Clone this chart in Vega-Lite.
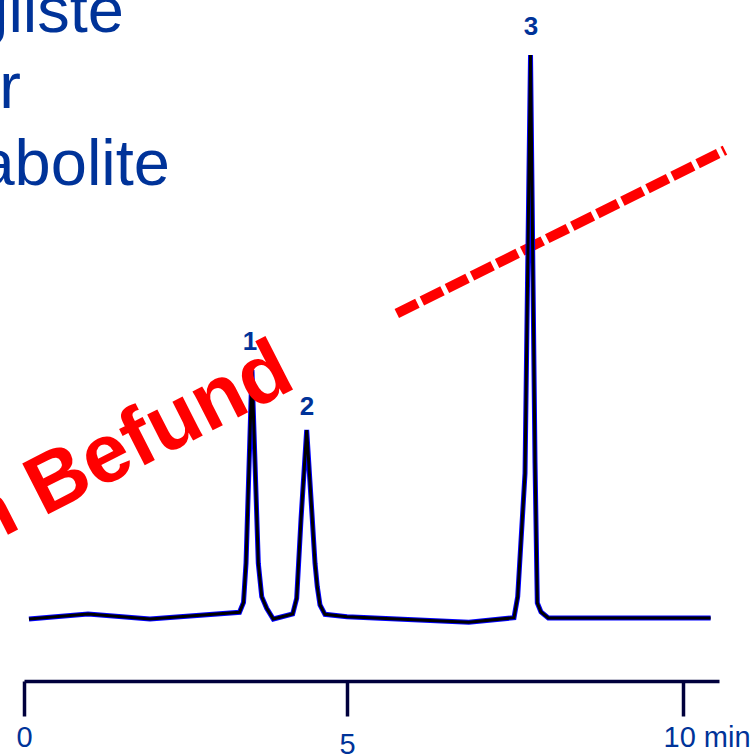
{
  "$schema": "https://vega.github.io/schema/vega-lite/v6.json",
  "autosize": "none",
  "width": 695,
  "height": 681,
  "padding": {"left": 24, "top": 0, "right": 32, "bottom": 73},
  "background": "white",
  "config": {"view": {"stroke": null}},
  "datasets": {
    "trace": [
      {"t": 0.077, "signal": 0},
      {"t": 0.991, "signal": 0.89},
      {"t": 1.95, "signal": 0},
      {"t": 3.336, "signal": 1.19},
      {"t": 3.398, "signal": 2.93},
      {"t": 3.437, "signal": 9.93},
      {"t": 3.529, "signal": 44.15},
      {"t": 3.627, "signal": 9.88},
      {"t": 3.68, "signal": 3.95},
      {"t": 3.757, "signal": 1.9},
      {"t": 3.859, "signal": 0},
      {"t": 4.159, "signal": 0.89},
      {"t": 4.221, "signal": 3.67},
      {"t": 4.288, "signal": 17.68},
      {"t": 4.376, "signal": 33.51},
      {"t": 4.463, "signal": 17.68},
      {"t": 4.505, "signal": 9.88},
      {"t": 4.54, "signal": 5.73},
      {"t": 4.582, "signal": 2.48},
      {"t": 4.659, "signal": 0.83},
      {"t": 5.0, "signal": 0.41},
      {"t": 6.813, "signal": -0.59},
      {"t": 7.485, "signal": 0.23},
      {"t": 7.54, "signal": 3.95},
      {"t": 7.649, "signal": 25.8},
      {"t": 7.731, "signal": 100},
      {"t": 7.798, "signal": 27.66},
      {"t": 7.832, "signal": 2.84},
      {"t": 7.887, "signal": 1.24},
      {"t": 7.996, "signal": 0.18},
      {"t": 10.411, "signal": 0.18}
    ],
    "peaks": [
      {"t": 3.498, "signal": 47.7, "label": "1"},
      {"t": 4.381, "signal": 36.17, "label": "2"},
      {"t": 7.738, "signal": 103.55, "label": "3"}
    ],
    "marker": [
      {"t": 5.741, "signal": 54.17},
      {"t": 10.625, "signal": 83.12}
    ],
    "stamp": [
      {"t": 4.241, "signal": 41.13, "text": "Kein Befund"}
    ],
    "heading": [
      {"t": 1.548, "signal": 104.08, "text": "gliste"},
      {"t": -0.046, "signal": 90.6, "text": "r"},
      {"t": 2.26, "signal": 76.95, "text": "abolite"}
    ]
  },
  "encoding": {
    "x": {
      "field": "t",
      "type": "quantitative",
      "scale": {"domain": [0, 5, 10, 10.536], "range": [0, 323, 659, 695], "nice": false, "zero": false},
      "axis": {
        "orient": "bottom",
        "values": [0, 5, 10],
        "title": null,
        "grid": false,
        "domainColor": "#00003c",
        "domainWidth": 3.5,
        "tickColor": "#00003c",
        "tickWidth": 3.5,
        "tickSize": 35,
        "labelColor": "#003399",
        "labelFont": "Liberation Sans",
        "labelFontSize": 29,
        "labelBaseline": "alphabetic",
        "labelPadding": {"condition": {"test": "datum.value == 5", "value": 37}, "value": 30},
        "labelAlign": {"condition": {"test": "datum.value == 10", "value": "left"}, "value": "center"},
        "labelOffset": {"condition": {"test": "datum.value == 10", "value": -20}, "value": 0},
        "labelExpr": "datum.value == 10 ? '10 min' : datum.label",
        "labelOverlap": false,
        "labelFlush": false,
        "labelBound": false
      }
    },
    "y": {
      "field": "signal",
      "type": "quantitative",
      "scale": {"domain": [-10.99, 109.75], "nice": false, "zero": false},
      "axis": null
    }
  },
  "layer": [
    {
      "data": {"name": "marker"},
      "mark": {"type": "line", "color": "#ff0000", "strokeWidth": 10, "strokeDash": [23, 5], "strokeCap": "butt"},
      "encoding": {}
    },
    {
      "data": {"name": "trace"},
      "mark": {"type": "line", "color": "#0000ff", "strokeWidth": 5, "strokeJoin": "miter"},
      "encoding": {}
    },
    {
      "data": {"name": "trace"},
      "mark": {"type": "line", "color": "#000000", "strokeWidth": 3, "strokeJoin": "miter"},
      "encoding": {}
    },
    {
      "data": {"name": "stamp"},
      "mark": {"type": "text", "color": "#ff0000", "font": "Liberation Sans", "fontWeight": "bold", "fontSize": 83, "angle": 333, "align": "right", "baseline": "alphabetic"},
      "encoding": {"text": {"field": "text"}}
    },
    {
      "data": {"name": "peaks"},
      "mark": {"type": "text", "color": "#003399", "font": "Liberation Sans", "fontWeight": "bold", "fontSize": 26, "align": "center", "baseline": "alphabetic"},
      "encoding": {"text": {"field": "label"}}
    },
    {
      "data": {"name": "heading"},
      "mark": {"type": "text", "color": "#003399", "font": "Liberation Sans", "fontSize": 65, "align": "right", "baseline": "alphabetic"},
      "encoding": {"text": {"field": "text"}}
    }
  ]
}
